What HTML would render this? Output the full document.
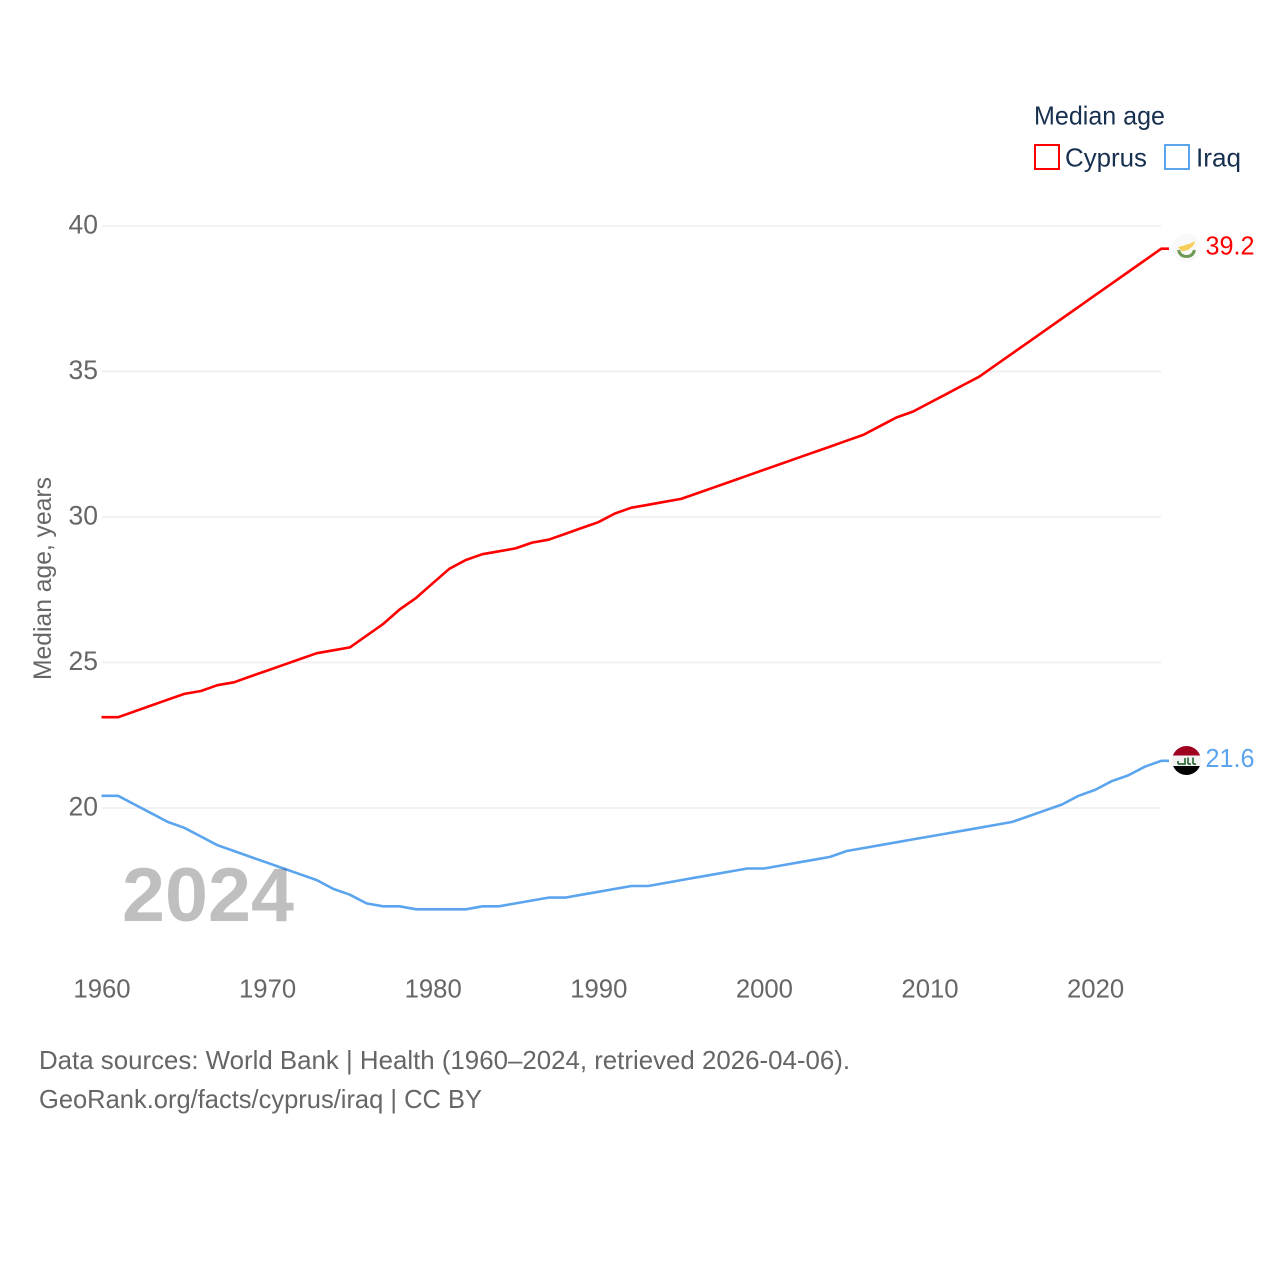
<!DOCTYPE html>
<html lang="en">
<head>
<meta charset="utf-8">
<title>Median age: Cyprus and Iraq</title>
<style>
html,body{margin:0;padding:0;background:#fff;width:1280px;height:1280px;overflow:hidden}
svg{display:block}
text{font-family:"Liberation Sans",sans-serif}
</style>
</head>
<body>
<svg id="chart" xmlns="http://www.w3.org/2000/svg" width="1280" height="1280" viewBox="0 0 1280 1280">
  <g id="grid"></g>
  <g id="yticks"></g>
  <g id="xticks"></g>
  <text transform="translate(51,680) rotate(-90)" font-size="25" fill="#666" textLength="203" lengthAdjust="spacingAndGlyphs">Median age, years</text>
  <g id="series"></g>
  <text x="122" y="921" font-size="76" font-weight="700" fill="#000" fill-opacity="0.25" textLength="172" lengthAdjust="spacingAndGlyphs">2024</text>

  <g>
    <text x="1034" y="124.5" font-size="26" fill="#18304f" textLength="131" lengthAdjust="spacingAndGlyphs">Median age</text>
    <rect x="1035" y="145" width="24" height="24" fill="none" stroke="#ff0000" stroke-width="2"/>
    <text x="1065" y="166.5" font-size="26" fill="#18304f" textLength="82" lengthAdjust="spacingAndGlyphs">Cyprus</text>
    <rect x="1165" y="145" width="24" height="24" fill="none" stroke="#5ba4ee" stroke-width="2"/>
    <text x="1196" y="166.5" font-size="26" fill="#18304f" textLength="45" lengthAdjust="spacingAndGlyphs">Iraq</text>
  </g>

  <g id="flag-cyprus">
    <circle cx="1186.5" cy="248" r="14.5" fill="#f9f9f9"/>
    <path d="M1178 247 L1184 245.5 L1190 243.5 L1195.5 241 L1193 246 L1188 250 L1182 251.5 Z" fill="#f5cf5a"/>
    <path d="M1178.5 250 Q1180 256.5 1186.5 256.5 Q1193 256.5 1194.5 250" fill="none" stroke="#6f9a55" stroke-width="3"/>
  </g>
  <g id="flag-iraq">
    <clipPath id="iraq-clip"><circle cx="1186.5" cy="760.5" r="14.5"/></clipPath>
    <g clip-path="url(#iraq-clip)">
      <rect x="1172" y="746" width="29" height="10" fill="#a00020"/>
      <rect x="1172" y="755.5" width="29" height="10.5" fill="#f2f2f2"/>
      <rect x="1172" y="766" width="29" height="10" fill="#000"/>
      <path d="M1178 764 H1185 V758 M1178 764 V761 M1188 764 V757.5 M1188 764 H1191 M1193 764 V757.5 M1193 764 H1196" fill="none" stroke="#2f6b3a" stroke-width="1.7"/>
    </g>
  </g>

  <text id="label-cyprus" x="1205.5" y="254.5" font-size="25.5" fill="#ff0000" textLength="49" lengthAdjust="spacingAndGlyphs"></text>
  <text id="label-iraq" x="1205.5" y="767" font-size="25.5" fill="#5ba4ee" textLength="49" lengthAdjust="spacingAndGlyphs"></text>

  <g>
    <text x="39" y="1069" font-size="26" fill="#666" textLength="811" lengthAdjust="spacingAndGlyphs">Data sources: World Bank | Health (1960–2024, retrieved 2026-04-06).</text>
    <text x="39" y="1108" font-size="26" fill="#666" textLength="443" lengthAdjust="spacingAndGlyphs">GeoRank.org/facts/cyprus/iraq | CC BY</text>
  </g>
</svg>
<script>
const startYear = 1960;
const cyprusValues = [23.1,23.1,23.3,23.5,23.7,23.9,24.0,24.2,24.3,24.5,24.7,24.9,25.1,25.3,25.4,25.5,25.9,26.3,26.8,27.2,27.7,28.2,28.5,28.7,28.8,28.9,29.1,29.2,29.4,29.6,29.8,30.1,30.3,30.4,30.5,30.6,30.8,31.0,31.2,31.4,31.6,31.8,32.0,32.2,32.4,32.6,32.8,33.1,33.4,33.6,33.9,34.2,34.5,34.8,35.2,35.6,36.0,36.4,36.8,37.2,37.6,38.0,38.4,38.8,39.2];
const iraqValues = [20.4,20.4,20.1,19.8,19.5,19.3,19.0,18.7,18.5,18.3,18.1,17.9,17.7,17.5,17.2,17.0,16.7,16.6,16.6,16.5,16.5,16.5,16.5,16.6,16.6,16.7,16.8,16.9,16.9,17.0,17.1,17.2,17.3,17.3,17.4,17.5,17.6,17.7,17.8,17.9,17.9,18.0,18.1,18.2,18.3,18.5,18.6,18.7,18.8,18.9,19.0,19.1,19.2,19.3,19.4,19.5,19.7,19.9,20.1,20.4,20.6,20.9,21.1,21.4,21.6];
const yTickValues = [20,25,30,35,40];
const xTickValues = [1960,1970,1980,1990,2000,2010,2020];

const NS = 'http://www.w3.org/2000/svg';
function xScale(year){ return 101.5 + (year - 1960) * 16.56; }
function yScale(v){ return 808 - (v - 20) * 29.1; }
function lineY(v){ return yScale(v) - 0.6; }

const grid = document.getElementById('grid');
const yticks = document.getElementById('yticks');
const xticks = document.getElementById('xticks');
const series = document.getElementById('series');

yTickValues.forEach(function(v){
  const line = document.createElementNS(NS,'line');
  
  
  line.setAttribute('x1', 102);
  line.setAttribute('x2', 1161);
  line.setAttribute('y1', yScale(v));
  line.setAttribute('y2', yScale(v));
  line.setAttribute('stroke', '#eeeeee');
  line.setAttribute('stroke-width', '1.5');
  grid.appendChild(line);

  const t = document.createElementNS(NS,'text');
  
  
  t.setAttribute('x', 98);
  t.setAttribute('y', yScale(v) + 7.5);
  t.setAttribute('text-anchor', 'end');
  t.setAttribute('font-size', '26.5');
  t.setAttribute('fill', '#666');
  t.textContent = v;
  yticks.appendChild(t);
});

xTickValues.forEach(function(y){
  const t = document.createElementNS(NS,'text');
  
  
  t.setAttribute('x', xScale(y) + 0.5);
  t.setAttribute('y', 997.5);
  t.setAttribute('text-anchor', 'middle');
  t.setAttribute('font-size', '25.7');
  t.setAttribute('fill', '#666');
  t.textContent = y;
  xticks.appendChild(t);
});

function drawSeries(values, color, name){
  const pts = values.map(function(v,i){
    return xScale(startYear + i).toFixed(1) + ',' + lineY(v).toFixed(1);
  });
  const lastValue = values[values.length - 1];
  pts.push('1169,' + lineY(lastValue).toFixed(1));
  const p = document.createElementNS(NS,'polyline');
  
  
  p.setAttribute('points', pts.join(' '));
  p.setAttribute('fill', 'none');
  p.setAttribute('stroke', color);
  p.setAttribute('stroke-width', '2.6');
  p.setAttribute('stroke-linejoin', 'round');
  series.appendChild(p);
}
drawSeries(cyprusValues, '#ff0000', 'cyprus-line');
drawSeries(iraqValues, '#5ba4ee', 'iraq-line');

document.getElementById('label-cyprus').textContent = cyprusValues[cyprusValues.length - 1].toFixed(1);
document.getElementById('label-iraq').textContent = iraqValues[iraqValues.length - 1].toFixed(1);
</script>
</body>
</html>
